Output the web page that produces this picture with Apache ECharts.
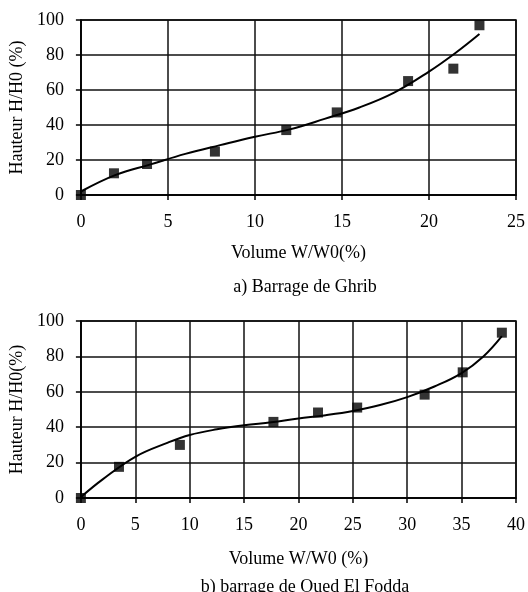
<!DOCTYPE html>
<html>
<head>
<meta charset="utf-8">
<script src="https://cdn.jsdelivr.net/npm/echarts@6/dist/echarts.min.js"></script>
<style>
  html, body { margin: 0; padding: 0; background: #fff; }
  #main { width: 528px; height: 592px; }
</style>
</head>
<body>
<div id="main"></div>
<script>
// measured points, a) Ghrib
const ghribVolume = [0, 1.9, 3.8, 7.7, 11.8, 14.7, 18.8, 21.4, 22.9];
const ghribHeight = [0, 12.4, 17.7, 24.8, 37.1, 47.2, 65.1, 72.2, 97];
// trend curve, a)
const ghribTrendVolume = [0, 2, 4, 6, 8, 10, 12, 14, 16, 18, 20, 21.5, 22.9];
const ghribTrendHeight = [2, 11.5, 17.5, 23.5, 28.5, 33.3, 37.5, 43.5, 50, 58.5, 70.5, 81, 92];

// measured points, b) Oued El Fodda
const foddaVolume = [0, 3.5, 9.1, 17.7, 21.8, 25.4, 31.6, 35.1, 38.7];
const foddaHeight = [0, 17.6, 30, 43, 48.3, 51.1, 58.4, 71, 93.4];
// trend curve, b)
const foddaTrendVolume = [0, 2, 5, 8, 10, 12.5, 15, 17.5, 20, 22.5, 25, 27.5, 30, 32.5, 35, 37, 38.7];
const foddaTrendHeight = [0.5, 10.5, 23.3, 31.3, 35.6, 38.8, 41.1, 42.8, 44.9, 46.8, 49.2, 52.5, 57, 63, 70.6, 80, 91.5];

const ghribXMax = 25;
const foddaXMax = 40;

const zip = (xs, ys) => xs.map((x, i) => [x, ys[i]]);

var chartDom = document.getElementById("main");
var myChart = echarts.init(chartDom);

const font = "Liberation Serif";
const txt = { color: "#000", fontFamily: font, fontSize: 18 };

function xAxis(gridIndex, max, name, nameGap) {
  return {
    gridIndex,
    type: "value",
    min: 0,
    max,
    interval: 5,
    name,
    nameLocation: "middle",
    nameGap,
    nameTextStyle: txt,
    axisLine: { show: true, lineStyle: { color: "#000", width: 1.5 } },
    axisTick: { show: true, length: 5, lineStyle: { color: "#000", width: 1.5 } },
    axisLabel: Object.assign({ margin: 18 }, txt),
    splitLine: { show: true, lineStyle: { color: "#111", width: 1.5 } },
  };
}

function yAxis(gridIndex, name) {
  return {
    gridIndex,
    type: "value",
    min: 0,
    max: 100,
    interval: 20,
    name,
    nameLocation: "middle",
    nameGap: 48,
    nameTextStyle: txt,
    axisLine: { show: true, lineStyle: { color: "#000", width: 1.5 } },
    axisTick: { show: true, length: 5, lineStyle: { color: "#000", width: 1.5 } },
    axisLabel: Object.assign({ margin: 17 }, txt),
    splitLine: { show: true, lineStyle: { color: "#111", width: 1.5 } },
  };
}

function points(i, data) {
  return {
    type: "scatter",
    xAxisIndex: i,
    yAxisIndex: i,
    symbol: "rect",
    symbolSize: 10,
    itemStyle: { color: "#000" },
    data,
    z: 4,
  };
}

function trend(i, data) {
  return {
    type: "line",
    xAxisIndex: i,
    yAxisIndex: i,
    smooth: 0.4,
    showSymbol: false,
    lineStyle: { color: "#000", width: 2 },
    data,
    z: 3,
  };
}

const option = {
  animation: false,
  backgroundColor: "#fff",
  title: [
    { text: "a) Barrage de Ghrib", left: 305, top: 278, padding: 0, textAlign: "center",
      textStyle: Object.assign({ fontWeight: "normal" }, txt) },
    { text: "b) barrage de Oued El Fodda", left: 305, top: 578, padding: 0, textAlign: "center",
      textStyle: Object.assign({ fontWeight: "normal" }, txt) },
  ],
  grid: [
    { left: 76, right: 7, top: 20, height: 175, show: true, borderColor: "#000", borderWidth: 1.5 },
    { left: 77, right: 9, top: 321, height: 177, show: true, borderColor: "#000", borderWidth: 1.5 },
  ],
  xAxis: [
    xAxis(0, ghribXMax, "Volume W/W0(%)", 49),
    xAxis(1, foddaXMax, "Volume W/W0 (%)", 52),
  ],
  yAxis: [
    yAxis(0, "Hauteur H/H0 (%)"),
    yAxis(1, "Hauteur H/H0(%)"),
  ],
  series: [
    trend(0, zip(ghribTrendVolume, ghribTrendHeight)),
    points(0, zip(ghribVolume, ghribHeight)),
    trend(1, zip(foddaTrendVolume, foddaTrendHeight)),
    points(1, zip(foddaVolume, foddaHeight)),
  ],
};

myChart.setOption(option);
</script>
</body>
</html>
